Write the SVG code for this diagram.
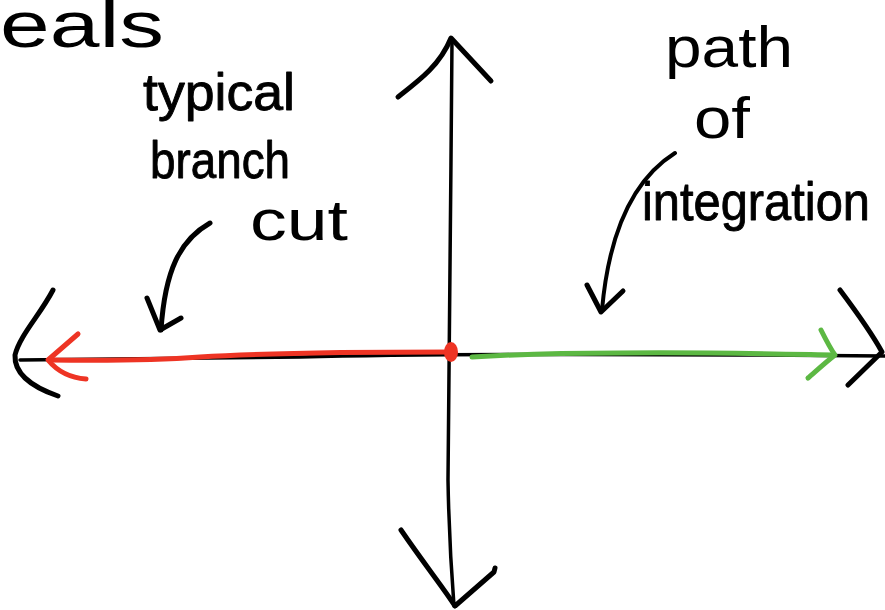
<svg xmlns="http://www.w3.org/2000/svg" width="885" height="610" viewBox="0 0 885 610">
<style>
.ink{fill:none;stroke:#000;stroke-linecap:round;stroke-linejoin:round}
.red{fill:none;stroke:#ee3424;stroke-linecap:round;stroke-linejoin:round;stroke-width:5}
.grn{fill:none;stroke:#5cb843;stroke-linecap:round;stroke-linejoin:round;stroke-width:5}
.lbl{font-family:"Liberation Sans",Arial,sans-serif;fill:#000}
.thk{stroke:#000;stroke-width:0.9;stroke-linejoin:round}
</style>
<rect width="885" height="610" fill="#fff"/>
<g id="axes">
<path class="ink" stroke-width="3.5" d="M452,40 C451,200 448,400 448,480 C449,540 452,580 454,606"/>
<path class="ink" stroke-width="5" d="M398,97 C420,80 440,65 451,38 L491,81"/>
<path class="ink" stroke-width="5" d="M401,530 C425,565 445,590 455,606 L494,572 L495,568"/>
<path class="ink" stroke-width="3.5" d="M20,360 L300,357 C450,353 650,354 885,356"/>
<path class="ink" stroke-width="5" d="M53,290 C40,315 20,335 15,355 C14,375 35,388 58,396"/>
<path class="ink" stroke-width="5" d="M840,290 C855,310 870,330 882,352 L848,385"/>
</g>
<g id="branch-cut">
<path class="red" d="M50,360 C120,361 160,360 200,357 C260,353 350,352 452,352"/>
<path class="red" d="M78,334 L48,360 C58,372 72,378 86,379"/>
</g>
<g id="origin">
<ellipse cx="451" cy="352" rx="7" ry="10" fill="#ee3424"/>
</g>
<g id="integration-path">
<path class="grn" d="M472,357 C520,354 560,353 620,353 C700,352 780,354 833,355"/>
<path class="grn" d="M821,330 C826,340 830,348 835,355 C826,362 815,372 808,378"/>
</g>
<g id="connectors">
<path class="ink" stroke-width="5" d="M210,223 C180,240 165,270 161,330"/>
<path class="ink" stroke-width="5" d="M147,298 L160,330 L181,318"/>
<path class="ink" stroke-width="4" d="M675,153 C640,175 610,220 602,310"/>
<path class="ink" stroke-width="5" d="M587,285 L601,312 L623,291"/>
</g>
<g id="labels">
<text class="lbl" x="0" y="47" font-size="64" textLength="164" lengthAdjust="spacingAndGlyphs">eals</text>
<text class="lbl thk" x="143" y="110" font-size="52" textLength="152" lengthAdjust="spacingAndGlyphs">typical</text>
<text class="lbl thk" x="150" y="178" font-size="52" textLength="140" lengthAdjust="spacingAndGlyphs">branch</text>
<text class="lbl" x="250" y="240" font-size="58" textLength="98" lengthAdjust="spacingAndGlyphs">cut</text>
<text class="lbl" x="665" y="67" font-size="58" textLength="128" lengthAdjust="spacingAndGlyphs">path</text>
<text class="lbl" x="694" y="138" font-size="58" textLength="56" lengthAdjust="spacingAndGlyphs">of</text>
<text class="lbl thk" x="642" y="220" font-size="54" textLength="228" lengthAdjust="spacingAndGlyphs">integration</text>
</g>
</svg>
